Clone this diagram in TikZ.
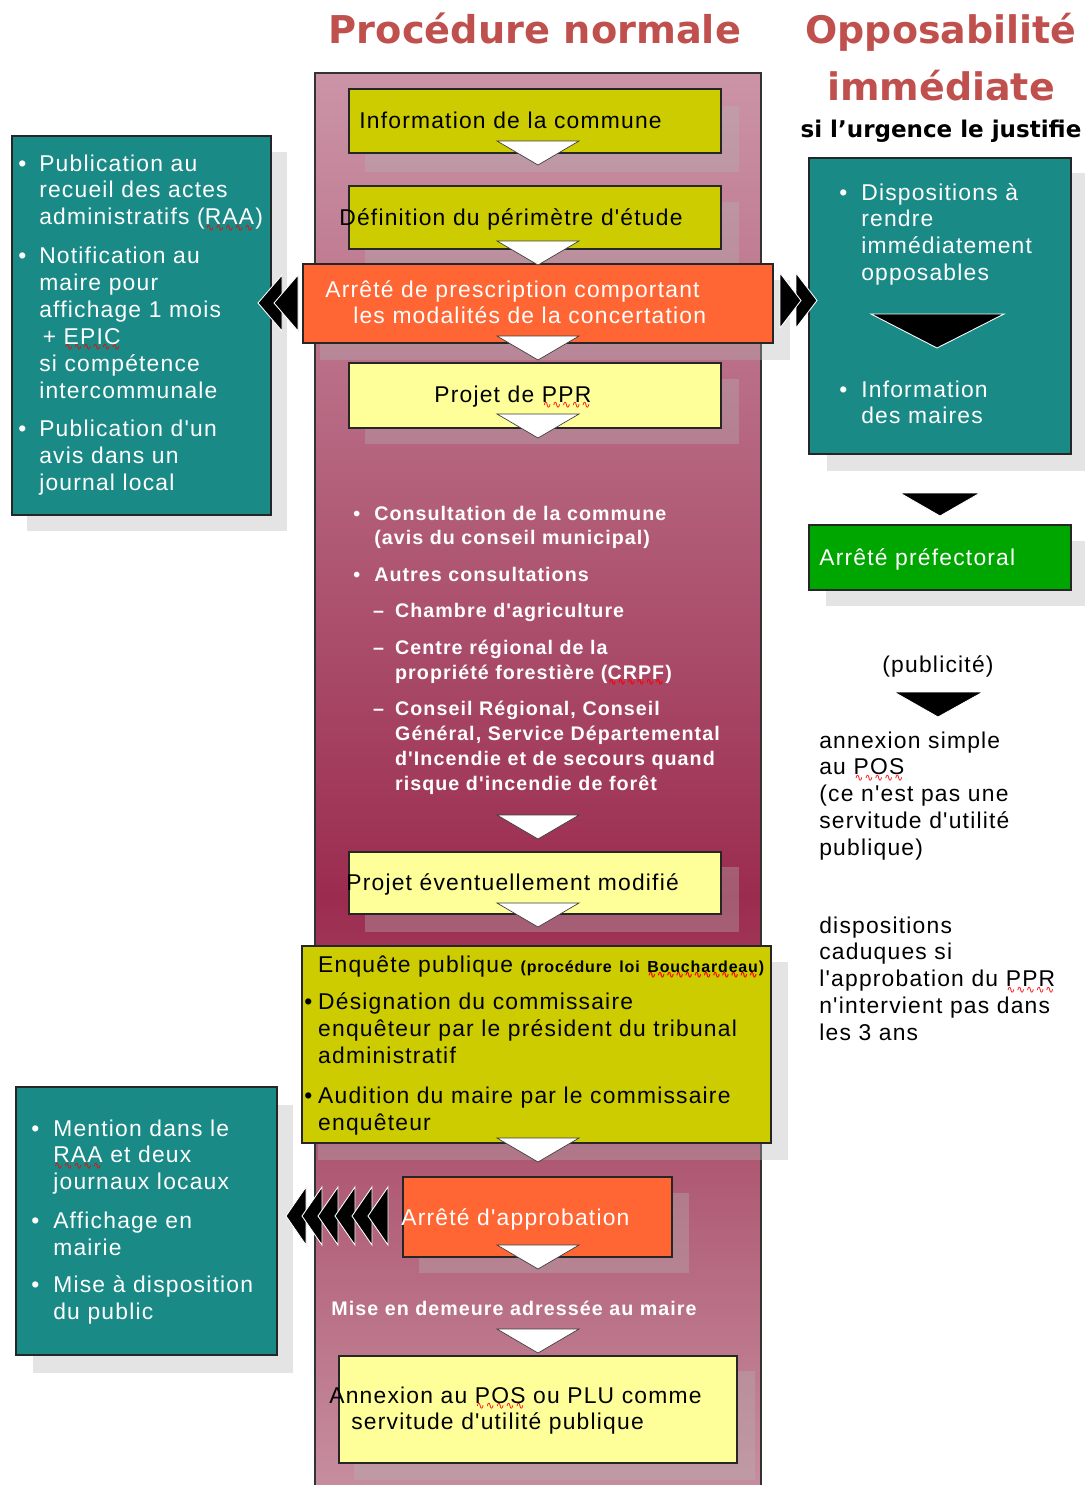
\documentclass[tikz,border=0pt]{standalone}
\usepackage{fontspec}
\setmainfont{Liberation Sans}[LetterSpace=5.3, Ligatures=TeXOff]
\newfontfamily\titlefont{DejaVu Sans}
\newfontfamily\wavefam{DejaVu Sans}
\usetikzlibrary{fit}

\definecolor{titlered}{HTML}{C0504D}
\definecolor{olivebox}{HTML}{CCCC00}
\definecolor{paleyellow}{HTML}{FFFF99}
\definecolor{orangebox}{HTML}{FF6633}
\definecolor{tealbox}{HTML}{1A8A87}
\definecolor{greenbox}{HTML}{00A600}
\definecolor{colTop}{HTML}{CB94A6}
\definecolor{colMid}{HTML}{9B2C50}
\definecolor{colBot}{HTML}{C78FA0}
\definecolor{shadowgrey}{RGB}{180,180,180}

% vertical gradient of the central column: light - dark crimson - light
\pgfdeclareverticalshading{columnshade}{100bp}{%
  color(0bp)=(colBot); color(25bp)=(colBot); color(46bp)=(colMid);
  color(75bp)=(colTop); color(100bp)=(colTop)}

% red spell-check wave under a word
\newsavebox\wavebox
\newcommand\redwave[1]{\sbox\wavebox{#1}%
  \rlap{\textcolor{red}{\lower3.6pt\hbox to \wd\wavebox{\xleaders\hbox{\wavefam\fontsize{6}{6}\selectfont ∿}\hfil}}}#1}

\newcommand\reg{\fontsize{13}{15.3}\selectfont}
\newcommand\bld{\bfseries\fontsize{11.2}{14.2}\selectfont}
\newcommand\nl{\hfil\break}
% bulleted paragraph with hanging indent
\newcommand\bul[2]{\hangindent=#1\hangafter=1\noindent\makebox[#1][l]{\textbullet}#2\par}
% dashed sub-item
\newcommand\dashitem[1]{\hangindent=23.8pt\hangafter=1\noindent\hspace*{11.3pt}\makebox[12.5pt][l]{–}#1\par}

\begin{document}
\begin{tikzpicture}[x=0.02cm,y=-0.02cm,
  boxed/.style={inner sep=0pt, draw=black!85, line width=0.8pt},
  shadowfill/.style={fill=shadowgrey, fill opacity=0.35},
  txt/.style={inner sep=0pt, anchor=base west, align=left, text width=#1},
  wchev/.style={fill=white, draw=black!75, line width=0.4pt},
  bchev/.style={fill=black, draw=white, line width=0.5pt}]

\useasboundingbox (0,0) rectangle (1085,1485);
\fill[white] (0,0) rectangle (1085,1485);

% central column
\node[fit={(315,73) (761,1492)}, inner sep=0pt, draw=black!80, line width=0.8pt,
      shade, shading=columnshade] (column) {};

% drop shadows
\fill[shadowfill] (365,106) rectangle (739,172);
\fill[shadowfill] (365,202) rectangle (739,267);
\fill[shadowfill] (320,280) rectangle (790,360);
\fill[shadowfill] (365,379) rectangle (739,444);
\fill[shadowfill] (365,867) rectangle (739,932);
\fill[shadowfill] (318,962) rectangle (788,1160);
\fill[shadowfill] (419,1193) rectangle (689,1273);
\fill[shadowfill] (354,1371) rectangle (755,1480);
\fill[shadowfill] (27,152) rectangle (287,531);
\fill[shadowfill] (827,173) rectangle (1085,471);
\fill[shadowfill] (826,541) rectangle (1085,606);
\fill[shadowfill] (33,1105) rectangle (293,1373);

% boxes
\node[boxed, fill=olivebox,  fit={(349,89) (721,153)}] (info) {};
\node[boxed, fill=olivebox,  fit={(349,186) (721,249)}] (perim) {};
\node[boxed, fill=orangebox, fit={(303,264) (773,343)}] (presc) {};
\node[boxed, fill=paleyellow, fit={(349,363) (721,428)}] (ppr) {};
\node[boxed, fill=paleyellow, fit={(349,852) (721,914)}] (modif) {};
\node[boxed, fill=olivebox,  fit={(302,946) (771,1143)}] (enq) {};
\node[boxed, fill=orangebox, fit={(403,1177) (672,1257)}] (appro) {};
\node[boxed, fill=paleyellow, fit={(339,1356) (737,1463)}] (annex) {};
\node[boxed, fill=tealbox,   fit={(12,136) (271,515)}] (leftpub) {};
\node[boxed, fill=tealbox,   fit={(809,158) (1071,454)}] (urgent) {};
\node[boxed, fill=greenbox,  fit={(809,525) (1071,590)}] (prefect) {};
\node[boxed, fill=tealbox,   fit={(16,1087) (277,1355)}] (leftappro) {};

% white down chevrons along the procedure
\foreach \t in {141,241,336,414,815,903,1138,1245,1329}
  \filldraw[wchev] (497,\t) -- (579,\t) -- (538,\t+24) -- cycle;

% black down triangles of the urgent procedure
\filldraw[bchev] (871,314) -- (1004,314) -- (937,348) -- cycle;
\filldraw[bchev] (900,493) -- (980,493) -- (940,516) -- cycle;
\filldraw[bchev] (894,692) -- (983,692) -- (938,717) -- cycle;

% double chevron towards the publication box
\foreach \tip in {258,274}
  \filldraw[bchev] (\tip,303) -- (\tip+24,275) -- (\tip+24,331) -- cycle;
% double chevron towards the urgent procedure
\foreach \back in {796,780}
  \filldraw[bchev] (\back,273) -- (\back+21,300.5) -- (\back,328) -- cycle;
% six chevrons towards the approval publicity box
\foreach \tip in {286,302,318,335,352,368}
  \filldraw[bchev] (\tip,1216) -- (\tip+20,1187) -- (\tip+20,1245) -- cycle;

% titles
\node[anchor=base, inner sep=0pt, text=titlered,
      font=\titlefont\bfseries\fontsize{21.8}{26}\selectfont] (titleA) at (535,43) {Procédure normale};
\node[anchor=base, inner sep=0pt, text=titlered,
      font=\titlefont\bfseries\fontsize{21.6}{26}\selectfont] (titleB) at (941,43) {Opposabilité};
\node[anchor=base, inner sep=0pt, text=titlered,
      font=\titlefont\bfseries\fontsize{21.6}{26}\selectfont] (titleC) at (941,100) {immédiate};
\node[anchor=base, inner sep=0pt,
      font=\titlefont\bfseries\fontsize{13.1}{16}\selectfont] (titleD) at (941,137) {si l’urgence le justifie};

% texts of the central column
\node[txt=12cm, font=\reg] (infotxt) at (359,128) {Information de la commune};
\node[txt=12cm, font=\reg] (perimtxt) at (339,225) {Définition du périmètre d'étude};
\node[txt=12cm, font=\reg, text=white] (presctxt) at (325,297)
  {Arrêté de prescription comportant\nl\hspace*{15.9pt}les modalités de la concertation};
\node[txt=12cm, font=\reg] (pprtxt) at (434,402) {Projet de \redwave{PPR}};
\node[txt=12cm, font=\bld, text=white] (consult) at (353,520) {%
  \bul{11.9pt}{Consultation de la commune\nl (avis du conseil municipal)}\vspace{6.5pt}%
  \bul{11.9pt}{Autres consultations}\vspace{6.5pt}%
  \dashitem{Chambre d'agriculture}\vspace{6.5pt}%
  \dashitem{Centre régional de la\nl propriété forestière (\redwave{CRPF})}\vspace{6.5pt}%
  \dashitem{Conseil Régional, Conseil\nl Général, Service Départemental\nl d'Incendie et de secours quand\nl risque d'incendie de forêt}};
\node[txt=12cm, font=\reg] (modiftxt) at (346,890) {Projet éventuellement modifié};
\node[txt=12cm, font=\reg] (enqtxt) at (304,972) {%
  \hspace*{7.9pt}Enquête publique {\bfseries\fontsize{9.1}{10}\selectfont (procédure loi \redwave{Bouchardeau})}\par\vspace{6.2pt}%
  \bul{7.9pt}{Désignation du commissaire\nl enquêteur par le président du tribunal\nl administratif}\vspace{7.4pt}%
  \bul{7.9pt}{Audition du maire par le commissaire\nl enquêteur}};
\node[txt=12cm, font=\reg, text=white] (approtxt) at (401,1225) {Arrêté d'approbation};
\node[txt=12cm, font=\bld, text=white] (demeure) at (331,1315) {Mise en demeure adressée au maire};
\node[txt=12cm, font=\reg] (annextxt) at (329,1403)
  {Annexion au \redwave{POS} ou PLU comme\nl\hspace*{12.5pt}servitude d'utilité publique};

% texts of the side boxes
\node[txt=6cm, font=\reg, text=white] (leftpubtxt) at (18,171) {%
  \bul{11.9pt}{Publication au\nl recueil des actes\nl administratifs (\redwave{RAA})}\vspace{6.8pt}%
  \bul{11.9pt}{Notification au\nl maire pour\nl affichage 1 mois\nl\hspace*{2pt}+ \redwave{EPIC}\nl si compétence\nl intercommunale}\vspace{6.8pt}%
  \bul{11.9pt}{Publication d'un\nl avis dans un\nl journal local}};
\node[txt=6cm, font=\reg, text=white] (urgenttxtA) at (839,200)
  {\bul{12.5pt}{Dispositions à\nl rendre\nl immédiatement\nl opposables}};
\node[txt=6cm, font=\reg, text=white] (urgenttxtB) at (839,397)
  {\bul{12.5pt}{Information\nl des maires}};
\node[txt=6cm, font=\reg, text=white] (prefecttxt) at (819,565) {Arrêté préfectoral};
\node[anchor=base, inner sep=0pt, font=\reg] (pubtxt) at (938,672) {(publicité)};
\node[txt=6cm, font=\reg] (simpletxt) at (819,748)
  {annexion simple\nl au \redwave{POS}\nl (ce n'est pas une\nl servitude d'utilité\nl publique)};
\node[txt=6cm, font=\reg] (caductxt) at (819,933)
  {dispositions\nl caduques si\nl l'approbation du \redwave{PPR}\nl n'intervient pas dans\nl les 3 ans};
\node[txt=6cm, font=\reg, text=white] (leftapprotxt) at (31,1136) {%
  \bul{12.5pt}{Mention dans le\nl \redwave{RAA} et deux\nl journaux locaux}\vspace{6.8pt}%
  \bul{12.5pt}{Affichage en\nl mairie}\vspace{5.7pt}%
  \bul{12.5pt}{Mise à disposition\nl du public}};
\end{tikzpicture}
\end{document}
